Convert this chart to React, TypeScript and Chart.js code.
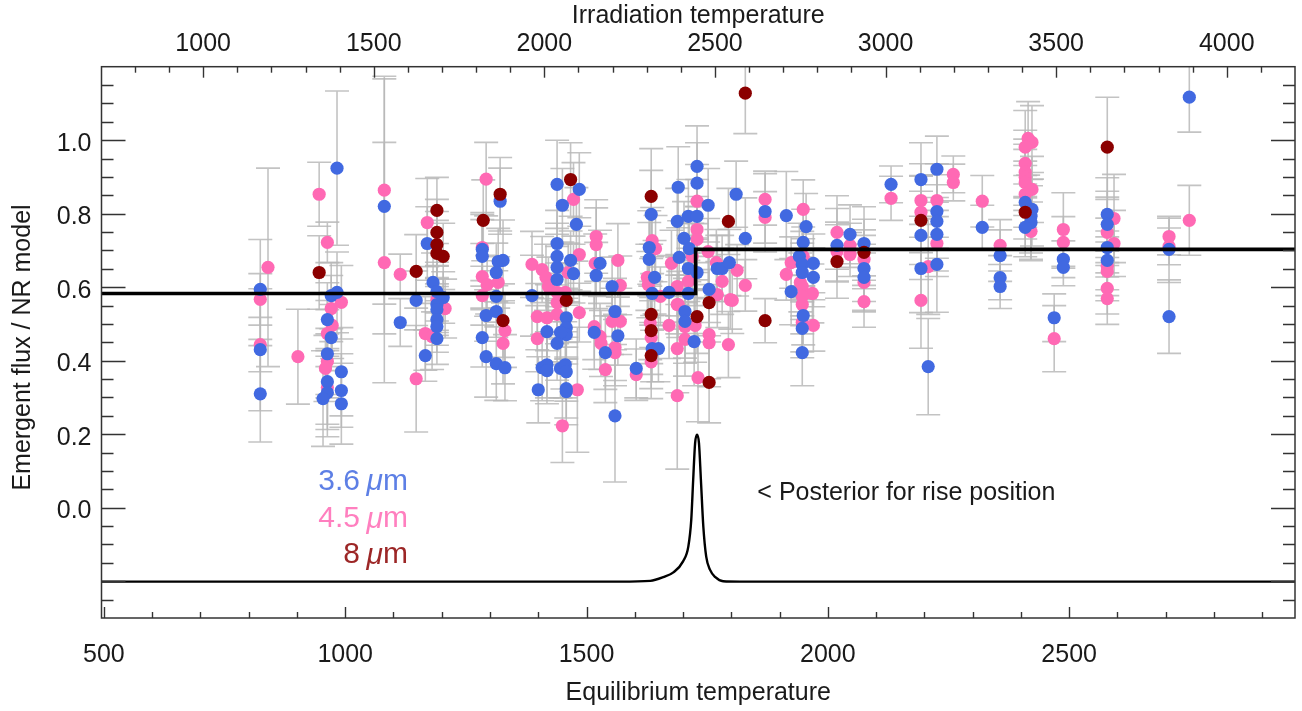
import React, { useEffect, useRef } from "react";
import { Chart, registerables } from "chart.js";

Chart.register(...registerables);

// [equilibrium temperature, flux ratio, error]
const blue36: number[][] = [
  [824,.594,.136],[824,.430,.166],[824,.310,.131],
  [971,.577,.09],[983,.586,.11],[983,.924,.21],[963,.512,.1],[971,.463,.09],[963,.419,.12],[992,.370,.12],
  [963,.343,.13],[992,.319,.1],[963,.313,.12],[954,.297,.13],[992,.283,.11],
  [1081,.820,.347],[1114,.504,.065],[1147,.564,.08],[1166,.414,.07],[1170,.719,.1],[1182,.613,.08],
  [1190,.588,.08],[1203,.572,.07],[1190,.553,.07],[1190,.539,.07],[1190,.512,.07],[1190,.493,.07],[1190,.460,.07],
  [1284,.703,.1],[1284,.684,.1],[1317,.670,.09],[1313,.640,.08],[1313,.575,.07],[1313,.534,.07],[1292,.523,.07],
  [1284,.463,.08],[1292,.411,.11],[1313,.392,.1],[1321,.834,.09],[1327,.673,.11],[1331,.381,.09],
  [1387,.577,.11],[1439,.880,.12],[1485,.866,.1],[1450,.823,.1],[1479,.771,.1],[1439,.719,.09],[1439,.684,.09],
  [1439,.654,.09],[1439,.621,.09],[1467,.673,.08],[1473,.637,.08],[1528,.665,.09],[1520,.632,.09],[1553,.602,.08],
  [1634,.798,.12],[1630,.708,.1],[1630,.676,.1],[1641,.627,.1],[1636,.583,.1],[1671,.586,.1],
  [1690,.872,.11],[1688,.779,.09],[1692,.681,.1],
  [1458,.517,.08],[1458,.490,.08],[1458,.471,.08],[1446,.477,.08],[1418,.479,.09],[1439,.447,.1],[1408,.381,.09],
  [1418,.389,.09],[1418,.373,.09],[1446,.379,.08],[1456,.389,.09],[1458,.370,.08],[1400,.321,.09],[1458,.324,.08],
  [1458,.316,.09],[1559,.534,.09],[1516,.477,.1],[1565,.468,.08],[1539,.422,.1],[1603,.379,.08],[1559,.250,.18],
  [1636,.433,.09],[1649,.433,.09],
  [1729,.929,.11],[1729,.883,.11],[1752,.823,.1],[1711,.793,.1],[1729,.793,.1],[1702,.733,.1],[1713,.705,.09],
  [1711,.651,.09],[1729,.640,.09],[1711,.583,.09],[1754,.594,.09],[1810,.853,.09],[1829,.733,.11],[1771,.651,.09],
  [1781,.651,.09],[1796,.667,.09],[1870,.806,.11],[1914,.795,.12],[1955,.765,.09],[1949,.722,.09],[1941,.684,.09],
  [1947,.662,.09],[1970,.665,.08],[1947,.640,.08],[1970,.627,.08],[1924,.588,.09],
  [1704,.534,.09],[1704,.507,.1],[1723,.452,.12],[1949,.523,.08],[1947,.488,.08],[1947,.422,.09],
  [2019,.714,.1],[2046,.744,.08],[2075,.719,.1],[2075,.651,.09],[2075,.627,.09],[2131,.880,.05],
  [2193,.893,.1],[2193,.741,.12],[2193,.651,.12],[2208,.384,.131],[2226,.806,.1],[2226,.779,.1],[2226,.744,.1],
  [2226,.662,.13],[2226,.921,.09],[2320,.763,.06],[2357,.686,.07],[2357,.626,.06],[2357,.602,.06],
  [2409,.831,.1],[2423,.812,.1],[2421,.793,.1],[2421,.776,.1],[2409,.763,.08],[2488,.676,.05],[2488,.654,.05],
  [2579,.798,.1],[2579,.771,.09],[2579,.708,.08],[2579,.673,.08],[2707,.703,.09],[2749,1.117,.095],
  [2469,.517,.065],[2707,.520,.1],
];

const pink45: number[][] = [
  [840,.654,.27],[824,.567,.07],[824,.444,.074],[902,.411,.129],[946,.853,.087],[963,.722,.055],
  [992,.559,.1],[971,.542,.09],[973,.496,.09],[963,.474,.09],[963,.398,.09],[959,.379,.09],[963,.327,.1],
  [1081,.864,.31],[1081,.667,.327],[1114,.635,.055],[1147,.351,.145],[1166,.474,.1],[1180,.466,.09],
  [1190,.567,.09],[1207,.542,.08],[1170,.776,.12],
  [1284,.708,.09],[1284,.629,.09],[1294,.607,.08],[1284,.577,.08],[1317,.613,.07],[1292,.894,.1],
  [1473,.839,.1],[1520,.738,.1],[1520,.716,.1],[1565,.673,.1],[1485,.689,.1],[1387,.662,.09],[1408,.648,.09],
  [1416,.627,.09],[1421,.602,.08],[1462,.640,.08],[1518,.665,.08],[1570,.605,.08],[1636,.727,.09],[1643,.705,.09],
  [1626,.627,.09],[1628,.607,.09],[1676,.665,.09],[1688,.602,.08],[1653,.575,.08],[1456,.586,.08],[1439,.586,.08],
  [1439,.558,.08],[1398,.520,.09],[1418,.517,.09],[1439,.526,.08],[1485,.531,.08],[1398,.460,.09],[1331,.482,.1],
  [1327,.447,.11],[1516,.493,.09],[1553,.507,.09],[1570,.507,.09],[1528,.466,.09],[1530,.447,.09],[1559,.436,.09],
  [1559,.422,.09],[1539,.376,.09],[1603,.362,.07],[1481,.321,.17],[1450,.223,.1],
  [1632,.503,.1],[1634,.463,.1],[1634,.397,.1],[1671,.496,.09],[1688,.433,.12],[1688,.305,.2],[1688,.553,.08],
  [1729,.834,.1],[1870,.839,.07],[1870,.790,.07],[1949,.812,.08],[2019,.749,.1],[1729,.757,.09],[1729,.730,.09],
  [1752,.697,.09],[1719,.684,.09],[1769,.667,.09],[1812,.646,.07],[1829,.605,.07],[1781,.616,.09],[1711,.616,.09],
  [1798,.566,.08],[1771,.580,.09],[1924,.667,.07],[1914,.635,.07],[1949,.684,.08],[1968,.583,.08],[1943,.613,.08],
  [1690,.553,.09],[1802,.564,.09],[1704,.493,.1],[1704,.458,.1],[1725,.496,.1],[1754,.471,.12],[1754,.449,.12],
  [1794,.444,.09],[1731,.354,.12],[1947,.553,.08],[1947,.602,.08],[1947,.575,.08],[1947,.504,.08],[1970,.496,.07],
  [2019,.697,.08],[2046,.714,.06],[2046,.689,.06],[2075,.676,.08],[2075,.613,.08],[2075,.561,.07],[2131,.842,.06],
  [2193,.836,.1],[2193,.804,.1],[2193,.564,.13],[2208,.656,.13],[2226,.836,.1],[2226,.719,.09],[2260,.907,.05],
  [2260,.885,.05],[2320,.834,.07],[2357,.714,.07],[2415,1.005,.1],[2423,.994,.1],[2409,.981,.1],[2409,.937,.09],
  [2409,.913,.09],[2409,.899,.09],[2409,.885,.09],[2423,.866,.09],[2409,.853,.09],[2421,.752,.08],
  [2488,.757,.1],[2488,.722,.07],[2593,.787,.12],[2579,.749,.09],[2593,.719,.09],[2707,.738,.05],[2707,.711,.05],
  [2749,.782,.095],[2579,.657,.08],[2579,.643,.08],[2579,.597,.07],[2579,.569,.07],[2469,.460,.09],
];

const red80: number[][] = [
  [946,.64,.1],[1147,.643,.1],[1190,.809,.09],[1190,.749,.09],[1190,.716,.09],[1190,.692,.09],[1203,.684,.09],
  [1286,.782,.11],[1321,.853,.1],[1327,.509,.1],[1467,.893,.1],[1458,.564,.1],[1634,.847,.13],[1634,.526,.09],
  [1634,.482,.09],[1634,.414,.09],[1754,.558,.09],[1729,.520,.1],[1754,.341,.11],[1870,.509,.06],[1829,1.128,.11],
  [1794,.779,.09],[2019,.670,.1],[2075,.695,.09],[2193,.782,.12],[2409,.804,.1],[2579,.981,.136],
];

const stepT = [495, 1726, 1726, 2968];
const stepF = [.583, .583, .703, .703];

const posteriorT = [495,1570,1632,1659,1680,1700,1711,1717,1721,1725,1729,1733,1737,1742,1748,1756,1767,1783,1818,2968];
const posteriorF = [-.201,-.201,-.199,-.189,-.176,-.146,-.105,-.033,.076,.176,.199,.176,.076,-.051,-.133,-.169,-.189,-.2,-.201,-.201];

const xLabelTicks = [500, 1000, 1500, 2000, 2500];
const topLabelTicks = [1000, 1500, 2000, 2500, 3000, 3500, 4000];
const yLabelTicks = [0, .2, .4, .6, .8, 1];

const xMinor = [600,700,800,900,1100,1200,1300,1400,1600,1700,1800,1900,2100,2200,2300,2400,2600,2700,2800,2900];
const topMinor = [800,900,1100,1200,1300,1400,1600,1700,1800,1900,2100,2200,2300,2400,2600,2700,2800,2900,3100,3200,3300,3400,3600,3700,3800,3900,4100];
const yMajor = [-.2, 0, .2, .4, .6, .8, 1];
const yMinor = [-.25,-.15,-.1,-.05,.05,.1,.15,.25,.3,.35,.45,.5,.55,.65,.7,.75,.85,.9,.95,1.05,1.1,1.15];

const legendEntries = [
  { num: "3.6", f: .074, color: "rgba(65,105,225,.85)" },
  { num: "4.5", f: -.027, color: "rgba(255,105,180,.85)" },
  { num: "8", f: -.125, color: "rgba(139,0,0,.85)" },
];
const legendRightT = 1130;
const posteriorNote = "< Posterior for rise position";
const posteriorNoteT = 1854;
const posteriorNoteF = .043;

const FONT = '"Liberation Sans", Arial, sans-serif';
const TEXT = "#1a1a1a";

const errorBars = {
  id: "errorBars",
  beforeDatasetsDraw(chart: any) {
    const { ctx, chartArea: a, scales } = chart;
    ctx.save();
    ctx.beginPath();
    ctx.rect(a.left, a.top, a.width, a.height);
    ctx.clip();
    ctx.strokeStyle = "rgba(185,185,185,.85)";
    ctx.lineWidth = 1.6;
    chart.data.datasets.forEach((ds: any) => {
      if (!ds.errors) return;
      ds.errors.forEach((e: number, i: number) => {
        const d = ds.data[i];
        const x = scales.x.getPixelForValue(d.x);
        const lo = scales.y.getPixelForValue(d.y - e);
        const hi = scales.y.getPixelForValue(d.y + e);
        ctx.beginPath();
        ctx.moveTo(x, lo); ctx.lineTo(x, hi);
        ctx.moveTo(x - 12, lo); ctx.lineTo(x + 12, lo);
        ctx.moveTo(x - 12, hi); ctx.lineTo(x + 12, hi);
        ctx.stroke();
      });
    });
    ctx.restore();
  },
};

const frame = {
  id: "frame",
  afterDraw(chart: any) {
    const { ctx, chartArea: a, scales } = chart;
    ctx.save();
    ctx.strokeStyle = "#333";
    ctx.lineWidth = 1.4;
    const hTick = (scale: any, v: number, len: number) => {
      const x = Math.round(scale.getPixelForValue(v)) + .5;
      ctx.beginPath();
      if (scale.id === "x") { ctx.moveTo(x, a.bottom); ctx.lineTo(x, a.bottom - len); }
      else { ctx.moveTo(x, a.top); ctx.lineTo(x, a.top + len); }
      ctx.stroke();
    };
    xLabelTicks.forEach(v => hTick(scales.x, v, 11));
    xMinor.forEach(v => hTick(scales.x, v, 6));
    topLabelTicks.forEach(v => hTick(scales.x2, v, 11));
    topMinor.forEach(v => hTick(scales.x2, v, 6));
    const vTick = (v: number, len: number) => {
      const y = Math.round(scales.y.getPixelForValue(v)) + .5;
      ctx.beginPath();
      ctx.moveTo(a.left, y); ctx.lineTo(a.left + len, y);
      ctx.moveTo(a.right, y); ctx.lineTo(a.right - len, y);
      ctx.stroke();
    };
    yMajor.forEach(v => vTick(v, 24));
    yMinor.forEach(v => vTick(v, 12));
    ctx.lineWidth = 1.5;
    ctx.strokeRect(a.left, a.top, a.width, a.height);

    ctx.textBaseline = "middle";
    // y-axis title
    ctx.save();
    ctx.fillStyle = TEXT;
    ctx.font = `25px ${FONT}`;
    ctx.textAlign = "center";
    ctx.translate(23, 347.5);
    ctx.rotate(-Math.PI / 2);
    ctx.fillText("Emergent flux / NR model", 0, 0);
    ctx.restore();

    // wavelength labels
    const right = scales.x.getPixelForValue(legendRightT);
    legendEntries.forEach(l => {
      const y = scales.y.getPixelForValue(l.f) + 1.5;
      ctx.fillStyle = l.color;
      ctx.textAlign = "right";
      ctx.font = `30px ${FONT}`;
      ctx.fillText("m", right, y);
      ctx.fillText(l.num, right - 48, y);
      ctx.font = `italic 30px ${FONT}`;
      ctx.fillText("\u03BC", right - 25, y);
    });

    ctx.fillStyle = TEXT;
    ctx.textAlign = "left";
    ctx.font = `25px ${FONT}`;
    ctx.fillText(posteriorNote, scales.x.getPixelForValue(posteriorNoteT), scales.y.getPixelForValue(posteriorNoteF) + 1);
    ctx.restore();
  },
};

export default function App() {
  const ref = useRef<HTMLCanvasElement>(null);
  useEffect(() => {
    const series = (rows: number[][], label: string, color: string, order: number) => ({
      type: "scatter",
      label,
      order,
      data: rows.map(r => ({ x: r[0], y: r[1] })),
      errors: rows.map(r => r[2]),
      backgroundColor: color,
      borderWidth: 0,
      pointRadius: 6.6,
      showLine: false,
    });
    const line = (xs: number[], ys: number[], label: string, order: number, width: number, mono: boolean) => ({
      type: "scatter",
      label,
      order,
      data: xs.map((x, i) => ({ x, y: ys[i] })),
      showLine: true,
      borderColor: "#000",
      borderWidth: width,
      pointRadius: 0,
      cubicInterpolationMode: mono ? "monotone" : "default",
    });
    const fontOpt = { family: FONT, size: 25 };
    const chart = new Chart(ref.current as HTMLCanvasElement, {
      type: "scatter",
      data: {
        datasets: [
          series(pink45, "4.5 um", "#FF69B4", 4),
          series(blue36, "3.6 um", "#4169E1", 3),
          series(red80, "8 um", "#8B0000", 2),
          line(stepT, stepF, "NR model step", 1, 3.6, false),
          line(posteriorT, posteriorF, "Posterior", 0, 2.4, true),
        ],
      } as any,
      options: {
        animation: false,
        responsive: false,
        layout: { padding: { right: 7, left: 0, top: 0, bottom: 0 } },
        plugins: { legend: { display: false }, tooltip: { enabled: false } },
        scales: {
          x: {
            type: "linear", position: "bottom", min: 495, max: 2968,
            grid: { display: false }, border: { display: false },
            afterBuildTicks: (s: any) => { s.ticks = xLabelTicks.map(value => ({ value })); },
            afterFit: (s: any) => { s.height = 93; },
            ticks: { font: fontOpt, color: TEXT, padding: 14.5, maxRotation: 0, autoSkip: false, callback: (v: any) => String(v) },
            title: { display: true, text: "Equilibrium temperature", font: fontOpt, color: TEXT, padding: { top: 0, bottom: 2.5 } },
          },
          x2: {
            type: "linear", position: "top", axis: "x", min: 702, max: 4200,
            grid: { display: false }, border: { display: false },
            afterBuildTicks: (s: any) => { s.ticks = topLabelTicks.map(value => ({ value })); },
            afterFit: (s: any) => { s.height = 66.7; },
            ticks: { font: fontOpt, color: TEXT, padding: 0, maxRotation: 0, autoSkip: false, callback: (v: any) => String(v) },
            title: { display: true, text: "Irradiation temperature", font: fontOpt, color: TEXT, padding: { top: 1, bottom: 0 } },
          },
          y: {
            type: "linear", position: "left", min: -.3, max: 1.2,
            grid: { display: false }, border: { display: false },
            afterBuildTicks: (s: any) => { s.ticks = yLabelTicks.map(value => ({ value })); },
            afterFit: (s: any) => { s.width = 101.5; },
            ticks: { font: fontOpt, color: TEXT, padding: 2, labelOffset: 3.5, callback: (v: any) => Number(v).toFixed(1) },
          },
        },
      } as any,
      plugins: [errorBars, frame],
    } as any);
    return () => chart.destroy();
  }, []);
  return (
    <div style={{ position: "fixed", left: 0, top: 0, width: 1302, height: 711, background: "#fff" }}>
      <canvas ref={ref} width={1302} height={711} style={{ display: "block" }} />
    </div>
  );
}
